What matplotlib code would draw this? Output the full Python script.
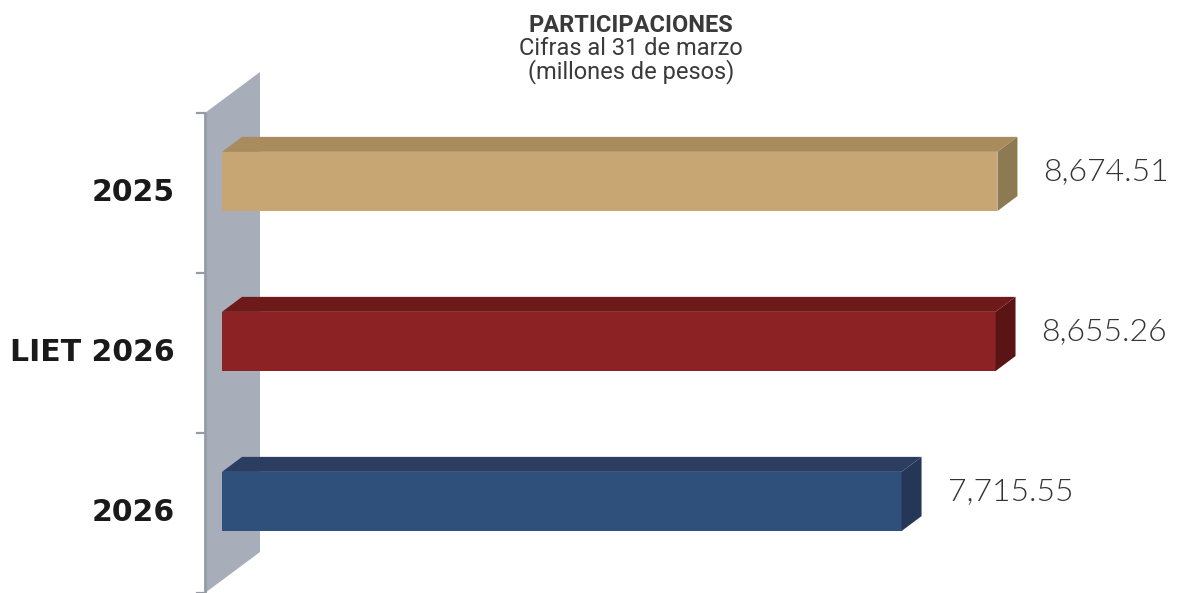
import matplotlib
matplotlib.use("Agg")
import matplotlib.pyplot as plt
from matplotlib.patches import Polygon
import numpy as np

# ---- data ----
categories = ["2025", "LIET 2026", "2026"]
values = [8674.51, 8655.26, 7715.55]
value_labels = ["8,674.51", "8,655.26", "7,715.55"]
title_lines = ["PARTICIPACIONES", "Cifras al 31 de marzo", "(millones de pesos)"]

# ---- style ----
front_colors = ["#c8a674", "#8c2224", "#30507c"]
top_colors = ["#a88c5e", "#6e1a1b", "#2b3e62"]
side_colors = ["#8e7a52", "#5a1416", "#263656"]
wall_color = "#a7aeb9"
W, H = 1183, 593
bar_base = 920          # axis start value of the bars
bar_height = 0.37
bar_lift = -0.072       # 3D lift of bars relative to category centre
depth = (20, 15)        # pixels (right, up)
wall_depth = (55, 41)

fig = plt.figure(figsize=(W / 100, H / 100), dpi=100)
fig.patch.set_facecolor("white")
ax = fig.add_axes([0, 0, 1, 1])
ax.set_xlim(-1300, 10530)
ax.set_ylim(2.5, -1.206)
ax.axis("off")

inv = ax.transData.inverted()


def shift(pt, d):
    p = ax.transData.transform(pt)
    return tuple(inv.transform((p[0] + d[0], p[1] + d[1])))


# wall (pseudo-3D y-axis wall)
wall_x = bar_base - 170
ylo, yhi = -0.5, 2.5
wall_pts = [(wall_x, ylo), shift((wall_x, ylo), wall_depth),
            shift((wall_x, yhi), wall_depth), (wall_x, yhi)]
ax.add_patch(Polygon(wall_pts, closed=True, facecolor=wall_color,
                     edgecolor="none", zorder=1))
ax.plot([wall_x, wall_x], [ylo, yhi], color="#959ba4", lw=2, zorder=2,
        solid_capstyle="butt")
for t in np.arange(-0.5, 2.6, 1.0):
    p = shift((wall_x, t), (-8, 0))
    ax.plot([p[0], wall_x], [t, t], color="#959ba4", lw=1.6, zorder=2)

# bars
for i, (cat, v) in enumerate(zip(categories, values)):
    yc = i + bar_lift
    y_top = yc - bar_height / 2
    y_bot = yc + bar_height / 2
    ax.barh(yc, v - bar_base, left=bar_base, height=bar_height,
            color=front_colors[i], edgecolor="none", zorder=3)
    top = [(bar_base, y_top), (v, y_top), shift((v, y_top), depth),
           shift((bar_base, y_top), depth)]
    ax.add_patch(Polygon(top, closed=True, facecolor=top_colors[i],
                         edgecolor="none", zorder=3))
    side = [(v, y_top), (v, y_bot), shift((v, y_bot), depth),
            shift((v, y_top), depth)]
    ax.add_patch(Polygon(side, closed=True, facecolor=side_colors[i],
                         edgecolor="none", zorder=3))
    ax.annotate(value_labels[i], (v, yc), xytext=(46, 10),
                textcoords="offset pixels", ha="left", va="center",
                fontsize=23, family="Lato", fontweight=300,
                color="#333333", zorder=4)
    ax.annotate(cat, (wall_x, i), xytext=(-30, 0),
                textcoords="offset pixels", ha="right", va="center",
                fontsize=21.5, family="DejaVu Sans", fontweight="bold",
                color="#1a1a1a", zorder=4)

# title
baselines = [32, 55, 78]
for k, (line, b) in enumerate(zip(title_lines, baselines)):
    fig.text(631 / W, 1 - b / H, line, ha="center", va="baseline",
             fontsize=17, family="Roboto",
             fontweight="bold" if k == 0 else "normal", color="#3a3a3a")

fig.savefig("out.png", dpi=100, facecolor="white")
